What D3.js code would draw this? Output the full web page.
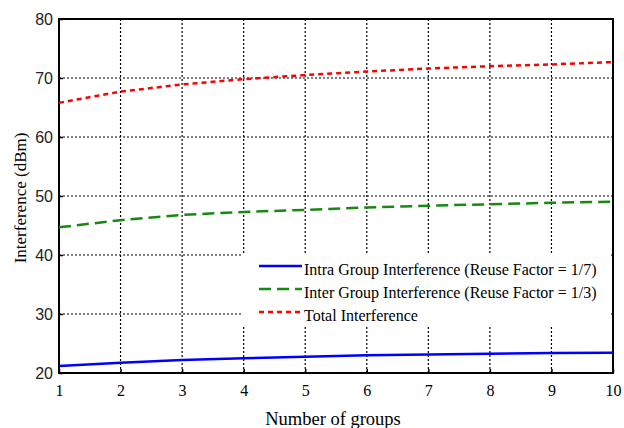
<!DOCTYPE html>
<html>
<head>
<meta charset="utf-8">
<script src="https://cdn.jsdelivr.net/npm/d3@7"></script>
<style>
  body { margin: 0; background: #fff; }
  svg { display: block; }
</style>
</head>
<body>
<div id="chart"></div>
<script>
// values
const groups = [1, 2, 3, 4, 5, 6, 7, 8, 9, 10];
const intraGroup = [21.2, 21.75, 22.2, 22.5, 22.75, 23.0, 23.15, 23.25, 23.4, 23.45];
const interGroup = [44.7, 45.9, 46.8, 47.3, 47.65, 48.05, 48.35, 48.6, 48.85, 49.05];
const totalInterference = [65.8, 67.7, 68.9, 69.8, 70.5, 71.1, 71.6, 72.0, 72.3, 72.7];
const xTicks = [1, 2, 3, 4, 5, 6, 7, 8, 9, 10];
const yTicks = [20, 30, 40, 50, 60, 70, 80];
const legendLabels = [
  'Intra Group Interference (Reuse Factor = 1/7)',
  'Inter Group Interference (Reuse Factor = 1/3)',
  'Total Interference'
];

const width = 624, height = 428;
const margin = { top: 19, right: 11, bottom: 55, left: 59 };
const serif = '"Liberation Serif", "Times New Roman", serif';
const sans = '"Liberation Sans", Arial, sans-serif';

const svg = d3.select('#chart')
  .append('svg')
  .attr('width', width)
  .attr('height', height);

let x = d3.scaleLinear()
  .domain([1, 10])
  .range([margin.left, width - margin.right]);
let y = d3.scaleLinear()
  .domain([20, 80])
  .range([height - margin.bottom, margin.top]);

// grid
let grid = svg.append('g')
  .attr('stroke', '#000')
  .attr('stroke-width', 1.2)
  .attr('stroke-dasharray', '2,2');
grid.selectAll('.vgrid')
  .data(xTicks.slice(1, -1))
  .enter().append('line')
  .attr('x1', d => x(d)).attr('x2', d => x(d))
  .attr('y1', y(80)).attr('y2', y(20));
grid.selectAll('.hgrid')
  .data(yTicks.slice(1, -1))
  .enter().append('line')
  .attr('x1', x(1)).attr('x2', x(10))
  .attr('y1', d => y(d)).attr('y2', d => y(d));

// legend background hides grid behind it
svg.append('rect')
  .attr('x', 243).attr('y', 253)
  .attr('width', 368).attr('height', 74)
  .attr('fill', '#fff');

// axes with inward ticks
let xAxis = svg.append('g')
  .attr('transform', `translate(0,${y(20)})`)
  .call(d3.axisBottom(x).tickValues(xTicks).tickSizeInner(-4).tickSizeOuter(0).tickPadding(12));
let yAxis = svg.append('g')
  .attr('transform', `translate(${x(1)},0)`)
  .call(d3.axisLeft(y).tickValues(yTicks).tickSizeInner(-4).tickSizeOuter(0).tickPadding(6));
xAxis.select('.domain').remove();
yAxis.select('.domain').remove();
xAxis.selectAll('line').attr('stroke-width', 1.5);
yAxis.selectAll('line').attr('stroke-width', 1.5);
xAxis.selectAll('text')
  .attr('font-family', serif)
  .attr('font-size', 16)
  .attr('fill', '#000');
yAxis.selectAll('text')
  .attr('font-family', sans)
  .attr('font-size', 16)
  .attr('fill', '#222');

// frame
svg.append('rect')
  .attr('x', x(1)).attr('y', y(80))
  .attr('width', x(10) - x(1))
  .attr('height', y(20) - y(80))
  .attr('fill', 'none')
  .attr('stroke', '#000')
  .attr('stroke-width', 2);

// lines
const series = [
  { values: intraGroup, color: '#0000ff', dash: null },
  { values: interGroup, color: '#168a10', dash: '12,6' },
  { values: totalInterference, color: '#ff0000', dash: '5,4' }
];
let line = d3.line()
  .x((d, i) => x(groups[i]))
  .y(d => y(d));

svg.append('g')
  .selectAll('path')
  .data(series)
  .enter().append('path')
  .attr('d', d => line(d.values))
  .attr('fill', 'none')
  .attr('stroke', d => d.color)
  .attr('stroke-width', 2.5)
  .attr('stroke-dasharray', d => d.dash);

// legend
let legend = svg.append('g')
  .selectAll('g')
  .data(series)
  .enter().append('g')
  .attr('transform', (d, i) => `translate(259,${266 + i * 23})`);
legend.append('line')
  .attr('x1', 0).attr('x2', 43)
  .attr('stroke', d => d.color)
  .attr('stroke-width', 2.5)
  .attr('stroke-dasharray', d => d.dash);
legend.append('text')
  .attr('x', 45)
  .attr('y', 9)
  .attr('font-family', serif)
  .attr('font-size', 16)
  .text((d, i) => legendLabels[i]);

// axis titles
svg.append('text')
  .attr('x', 333)
  .attr('y', 425)
  .attr('text-anchor', 'middle')
  .attr('font-family', serif)
  .attr('font-size', 18.5)
  .text('Number of groups');
svg.append('text')
  .attr('transform', `translate(26,198) rotate(-90)`)
  .attr('text-anchor', 'middle')
  .attr('font-family', serif)
  .attr('font-size', 17)
  .text('Interference (dBm)');
</script>
</body>
</html>
